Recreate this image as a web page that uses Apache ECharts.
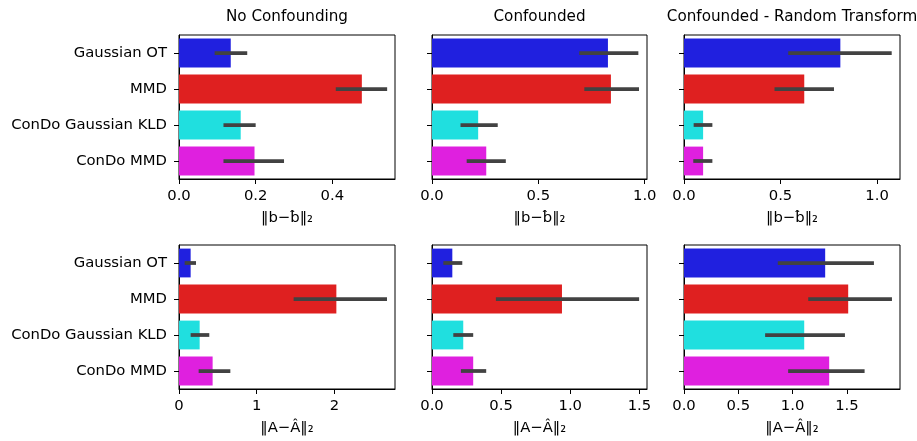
<!DOCTYPE html>
<html>
<head>
<meta charset="utf-8">
<script src="https://cdn.jsdelivr.net/npm/echarts@6/dist/echarts.min.js"></script>
<style>html,body{margin:0;padding:0;background:#fff}#c{width:917px;height:441px}</style>
</head>
<body>
<div id="c"></div>
<script>
var categories = ["Gaussian OT", "MMD", "ConDo Gaussian KLD", "ConDo MMD"];
var colors = ["#2020df", "#df2020", "#20dfdf", "#df20df"];
var titles = ["No Confounding", "Confounded", "Confounded - Random Transform"];
var xNames = ["‖b−b̂‖₂", "‖A−Â‖₂"];

// Row 1: ‖b−b̂‖₂
var b_noConf = [0.135, 0.477, 0.161, 0.197];
var b_noConf_lo = [0.093, 0.409, 0.116, 0.116];
var b_noConf_hi = [0.178, 0.543, 0.200, 0.274];
var b_conf = [0.827, 0.841, 0.217, 0.255];
var b_conf_lo = [0.692, 0.716, 0.134, 0.163];
var b_conf_hi = [0.970, 0.973, 0.309, 0.347];
var b_rand = [0.810, 0.623, 0.099, 0.099];
var b_rand_lo = [0.540, 0.469, 0.050, 0.048];
var b_rand_hi = [1.076, 0.777, 0.147, 0.147];

// Row 2: ‖A−Â‖₂
var A_noConf = [0.150, 2.026, 0.266, 0.433];
var A_noConf_lo = [0.073, 1.476, 0.150, 0.253];
var A_noConf_hi = [0.219, 2.678, 0.390, 0.661];
var A_conf = [0.147, 0.940, 0.226, 0.298];
var A_conf_lo = [0.082, 0.462, 0.154, 0.209];
var A_conf_hi = [0.219, 1.498, 0.298, 0.392];
var A_rand = [1.300, 1.512, 1.107, 1.337];
var A_rand_lo = [0.864, 1.144, 0.747, 0.959];
var A_rand_hi = [1.749, 1.915, 1.482, 1.663];

// Tick values and axis limits
var ticks_b_noConf = [0, 0.2, 0.4];
var ticks_b_conf = [0, 0.5, 1.0];
var ticks_b_rand = [0, 0.5, 1.0];
var ticks_A_noConf = [0, 1, 2];
var ticks_A_conf = [0, 0.5, 1.0, 1.5];
var ticks_A_rand = [0, 0.5, 1.0, 1.5];
var xMax = [0.5635, 1.0106, 1.119, 2.781, 1.555, 1.989];
var tickDecimals = [1, 1, 1, 0, 1, 1];

var panels = [
  {v: b_noConf, lo: b_noConf_lo, hi: b_noConf_hi, t: ticks_b_noConf},
  {v: b_conf, lo: b_conf_lo, hi: b_conf_hi, t: ticks_b_conf},
  {v: b_rand, lo: b_rand_lo, hi: b_rand_hi, t: ticks_b_rand},
  {v: A_noConf, lo: A_noConf_lo, hi: A_noConf_hi, t: ticks_A_noConf},
  {v: A_conf, lo: A_conf_lo, hi: A_conf_hi, t: ticks_A_conf},
  {v: A_rand, lo: A_rand_lo, hi: A_rand_hi, t: ticks_A_rand}
];

var FONT = "DejaVu Sans";
var FS = 14.8;
var TFS = 15.2;
var lefts = [179, 432, 684];
var widths = [216, 215, 216];
var tops = [35, 245];
var H = 144;

var grids = [], xAxes = [], yAxes = [], series = [], graphics = [];
for (var c = 0; c < 3; c++) {
  graphics.push({
    type: 'text', x: lefts[c] + widths[c] / 2, y: 17.5,
    style: {text: titles[c], fontFamily: FONT, fontSize: TFS, fill: '#000',
      textAlign: 'center', textVerticalAlign: 'middle'}
  });
}
panels.forEach(function (p, i) {
  var r = Math.floor(i / 3), c = i % 3;
  grids.push({left: lefts[c], top: tops[r], width: widths[c], height: H,
    show: true, borderColor: '#000', borderWidth: 1, backgroundColor: '#fff', containLabel: false});
  var dec = tickDecimals[i];
  xAxes.push({
    type: 'value', gridIndex: i, min: 0, max: xMax[i],
    name: xNames[r], nameLocation: 'middle', nameGap: 32,
    nameTextStyle: {fontFamily: FONT, fontSize: FS, color: '#000'},
    splitLine: {show: false},
    axisLine: {show: true, lineStyle: {color: '#000', width: 1}},
    axisTick: {show: true, inside: false, length: 5, lineStyle: {color: '#000', width: 1}, customValues: p.t},
    axisLabel: {show: true, margin: 10, fontFamily: FONT, fontSize: FS, color: '#000', customValues: p.t,
      formatter: function (v) { return Number(v).toFixed(dec); }}
  });
  yAxes.push({
    type: 'category', gridIndex: i, data: categories, inverse: true,
    axisLine: {show: true, lineStyle: {color: '#000', width: 1}},
    axisTick: {show: true, alignWithLabel: true, length: 5, lineStyle: {color: '#000', width: 1}},
    axisLabel: {show: c === 0, margin: 12, fontFamily: FONT, fontSize: FS, color: '#000'},
    splitLine: {show: false}
  });
  series.push({
    type: 'bar', xAxisIndex: i, yAxisIndex: i, barCategoryGap: '20%',
    data: p.v.map(function (v, k) { return {value: v, itemStyle: {color: colors[k]}}; }),
    silent: true, animation: false
  });
  series.push({
    type: 'custom', xAxisIndex: i, yAxisIndex: i, silent: true, animation: false,
    data: p.lo.map(function (lo, k) { return [lo, p.hi[k], k]; }),
    encode: {x: [0, 1], y: 2},
    renderItem: function (params, api) {
      var a = api.coord([api.value(0), api.value(2)]);
      var b = api.coord([api.value(1), api.value(2)]);
      return {type: 'line', shape: {x1: a[0], y1: a[1], x2: b[0], y2: b[1]},
        style: {stroke: '#424242', lineWidth: 3.75}};
    },
    z: 5
  });
});

var chart = echarts.init(document.getElementById('c'), null, {renderer: 'canvas'});
chart.setOption({
  animation: false,
  backgroundColor: '#fff',
  graphic: graphics,
  grid: grids, xAxis: xAxes, yAxis: yAxes, series: series
});
</script>
</body>
</html>
